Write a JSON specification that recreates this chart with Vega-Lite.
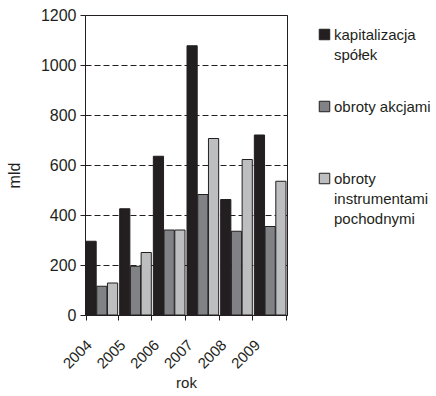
{
  "$schema": "https://vega.github.io/schema/vega-lite/v6.json",
  "width": 202,
  "height": 300,
  "autosize": {"type": "none"},
  "padding": {"left": 85, "top": 15, "right": 149, "bottom": 81},
  "background": "white",
  "config": {
    "font": "Liberation Sans",
    "view": {"stroke": "#231f20", "strokeWidth": 1}
  },
  "data": {
    "values": [
      {"rok": "2004", "seria": "kapitalizacja\nspółek", "mld": 295},
      {"rok": "2004", "seria": "obroty akcjami", "mld": 115},
      {"rok": "2004", "seria": "obroty\ninstrumentami\npochodnymi", "mld": 128},
      {"rok": "2005", "seria": "kapitalizacja\nspółek", "mld": 425},
      {"rok": "2005", "seria": "obroty akcjami", "mld": 195},
      {"rok": "2005", "seria": "obroty\ninstrumentami\npochodnymi", "mld": 250},
      {"rok": "2006", "seria": "kapitalizacja\nspółek", "mld": 635},
      {"rok": "2006", "seria": "obroty akcjami", "mld": 340},
      {"rok": "2006", "seria": "obroty\ninstrumentami\npochodnymi", "mld": 340},
      {"rok": "2007", "seria": "kapitalizacja\nspółek", "mld": 1077},
      {"rok": "2007", "seria": "obroty akcjami", "mld": 482},
      {"rok": "2007", "seria": "obroty\ninstrumentami\npochodnymi", "mld": 706},
      {"rok": "2008", "seria": "kapitalizacja\nspółek", "mld": 462},
      {"rok": "2008", "seria": "obroty akcjami", "mld": 335},
      {"rok": "2008", "seria": "obroty\ninstrumentami\npochodnymi", "mld": 622},
      {"rok": "2009", "seria": "kapitalizacja\nspółek", "mld": 720},
      {"rok": "2009", "seria": "obroty akcjami", "mld": 354},
      {"rok": "2009", "seria": "obroty\ninstrumentami\npochodnymi", "mld": 535}
    ]
  },
  "mark": {"type": "bar", "stroke": "#231f20", "strokeWidth": 1},
  "encoding": {
    "x": {
      "field": "rok",
      "type": "nominal",
      "scale": {"paddingInner": 0.06, "paddingOuter": 0.03},
      "axis": {
        "title": "rok",
        "titleFontSize": 15,
        "titleFontWeight": "normal",
        "titleColor": "#231f20",
        "titlePadding": 4,
        "labelAngle": -45,
        "labelAlign": "right",
        "labelBaseline": "top",
        "labelFontSize": 15,
        "labelColor": "#231f20",
        "labelPadding": 17,
        "labelOffset": -18,
        "tickBand": "extent",
        "tickColor": "#231f20",
        "tickSize": 5,
        "domainColor": "#231f20",
        "grid": false
      }
    },
    "xOffset": {
      "field": "seria",
      "type": "nominal",
      "sort": null,
      "scale": {"domain": ["kapitalizacja\nspółek", "obroty akcjami", "obroty\ninstrumentami\npochodnymi"], "paddingInner": 0.05}
    },
    "y": {
      "field": "mld",
      "type": "quantitative",
      "scale": {"domain": [0, 1200]},
      "axis": {
        "title": "mld",
        "titleFontSize": 16,
        "titleFontWeight": "normal",
        "titleColor": "#231f20",
        "titlePadding": 18,
        "titleY": 160,
        "values": [0, 200, 400, 600, 800, 1000, 1200],
        "format": "d",
        "labelFontSize": 16,
        "labelColor": "#231f20",
        "labelPadding": 4,
        "tickColor": "#231f20",
        "tickSize": 5,
        "domainColor": "#231f20",
        "grid": true,
        "gridColor": "#231f20",
        "gridDash": [6, 3],
        "gridWidth": 1
      }
    },
    "color": {
      "field": "seria",
      "type": "nominal",
      "scale": {
        "domain": ["kapitalizacja\nspółek", "obroty akcjami", "obroty\ninstrumentami\npochodnymi"],
        "range": ["#231f20", "#808285", "#bcbec0"]
      },
      "legend": {
        "title": null,
        "orient": "none",
        "legendX": 232,
        "legendY": 12,
        "padding": 0,
        "gridAlign": "all",
        "symbolType": "square",
        "symbolSize": 110,
        "symbolStrokeColor": "#231f20",
        "symbolStrokeWidth": 1,
        "labelFontSize": 15,
        "labelColor": "#231f20",
        "labelBaseline": "alphabetic",
        "labelOffset": 2,
        "labelLimit": 200,
        "rowPadding": 16,
        "labelExpr": "split(datum.label, '\\n')",
        "encode": {"labels": {"update": {"dy": {"value": 5}, "lineHeight": {"value": 20}}}}
      }
    }
  }
}
